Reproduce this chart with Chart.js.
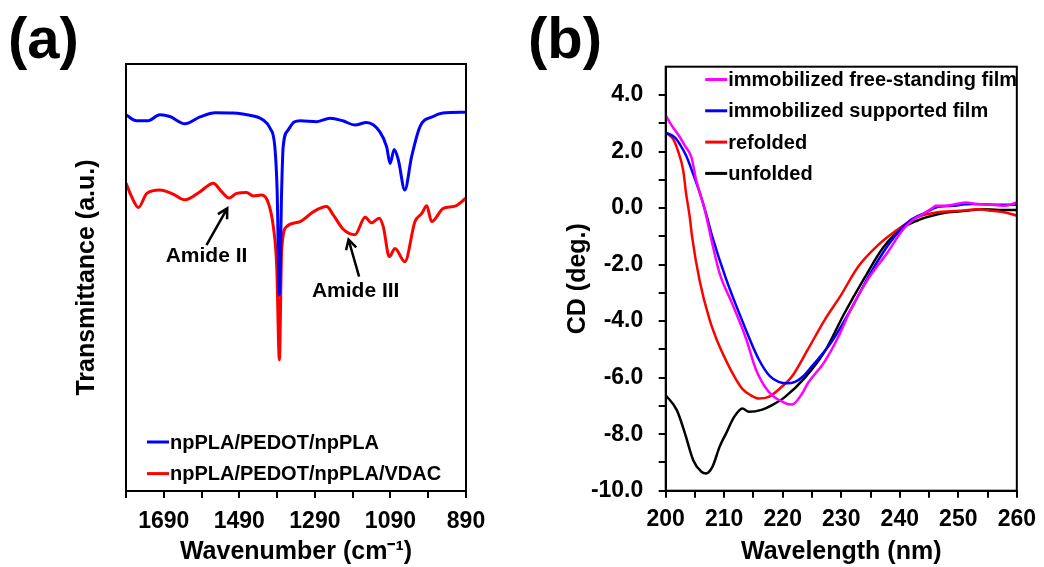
<!DOCTYPE html>
<html>
<head>
<meta charset="utf-8">
<script src="https://cdn.jsdelivr.net/npm/chart.js@4.4.0/dist/chart.umd.min.js"></script>
<style>
  html, body { margin: 0; padding: 0; background: #fff; }
  #wrap { position: relative; width: 1044px; height: 567px; }
  #chartA { position: absolute; left: 0; top: 0; }
  #chartB { position: absolute; left: 520px; top: 0; }
</style>
</head>
<body>
<div id="wrap">
  <canvas id="chartA" width="520" height="567"></canvas>
  <canvas id="chartB" width="524" height="567"></canvas>
</div>
<script>
// (a) FTIR spectra, wavenumber (cm-1) vs transmittance (a.u.)
const irTickValues = [1790, 1690, 1590, 1490, 1390, 1290, 1190, 1090, 990, 890];
const irTickLabels = [1690, 1490, 1290, 1090, 890];

const filmWn = [1790, 1762, 1732, 1700, 1674, 1634, 1594, 1554, 1507, 1470, 1427, 1409, 1396, 1390, 1384, 1378, 1374, 1361, 1345, 1329, 1285, 1250, 1216, 1184, 1153, 1118, 1100, 1091, 1080, 1069, 1052, 1034, 1012, 977, 951, 890];
const filmT = [88.1, 86.7, 86.7, 88.1, 87.7, 86.0, 87.6, 88.6, 88.5, 88.1, 86.9, 85.0, 80.6, 70.5, 45.9, 70.5, 80.6, 84.5, 86.4, 86.7, 86.5, 87.3, 86.7, 85.7, 86.3, 84.1, 80.6, 76.7, 80.0, 77.5, 70.5, 78.3, 85.3, 87.7, 88.5, 88.7];

const vdacWn = [1790, 1775, 1757, 1735, 1700, 1665, 1634, 1594, 1559, 1537, 1517, 1497, 1471, 1453, 1431, 1413, 1400, 1391, 1384, 1378, 1365, 1329, 1294, 1259, 1241, 1215, 1184, 1157, 1140, 1120, 1109, 1093, 1078, 1052, 1025, 1007, 994, 981, 950, 919, 890];
const vdacT = [72.1, 68.9, 66.4, 69.7, 70.5, 69.5, 68.2, 70.1, 72.1, 70.1, 68.6, 69.7, 69.9, 69.1, 69.3, 67.4, 61.9, 52.5, 30.7, 56.4, 61.9, 63.1, 65.4, 66.6, 64.6, 61.3, 60.0, 64.1, 62.8, 63.9, 61.9, 54.9, 56.8, 53.7, 63.1, 65.0, 66.8, 63.1, 66.2, 66.7, 68.6];

// (b) CD spectra, wavelength (nm) vs CD (deg.)
const freeNm = [200, 200.7, 202.1, 203.3, 204.4, 205.2, 206.6, 208.0, 209.2, 211.4, 213.7, 215.4, 217.6, 220.4, 221.6, 223.2, 224.3, 227.1, 229.4, 231.6, 234.4, 237.8, 240.6, 242.5, 244.0, 245.7, 246.2, 247.9, 251.3, 253.0, 255.8, 258.0, 260];
const freeCd = [3.29, 3.02, 2.61, 2.2, 1.79, 1.0, 0.0, -1.3, -2.3, -3.4, -4.6, -5.7, -6.5, -6.9, -6.95, -6.6, -6.2, -5.45, -4.6, -3.6, -2.57, -1.6, -0.75, -0.38, -0.21, 0.02, 0.08, 0.08, 0.2, 0.14, 0.12, 0.08, 0.2];

const suppNm = [200, 201.6, 202.4, 203.5, 204.7, 205.8, 206.9, 208.0, 210.3, 213.1, 215.9, 217.8, 219.3, 220.8, 222.1, 223.5, 224.9, 228.3, 231.6, 235.0, 238.4, 241.7, 244.5, 246.2, 249.0, 252.4, 255.8, 260];
const suppCd = [2.67, 2.49, 2.26, 1.85, 1.2, 0.55, -0.2, -1.04, -2.5, -4.0, -5.35, -5.95, -6.15, -6.2, -6.15, -5.95, -5.62, -4.75, -3.6, -2.3, -1.2, -0.45, -0.15, 0.02, 0.08, 0.14, 0.12, 0.12];

const refoldNm = [200, 201.3, 202.1, 203.0, 203.5, 204.1, 204.5, 205.8, 207.5, 208.9, 210.3, 211.7, 213.1, 214.5, 215.9, 217.6, 219.8, 221.5, 224.3, 227.1, 229.9, 232.8, 236.1, 239.5, 242.9, 246.2, 250.2, 253.5, 255.8, 258.0, 260];
const refoldCd = [2.67, 2.43, 2.02, 1.32, 0.49, -0.3, -1.0, -2.57, -3.95, -4.75, -5.39, -5.95, -6.4, -6.62, -6.74, -6.68, -6.33, -5.98, -5.0, -3.98, -3.1, -2.1, -1.35, -0.78, -0.33, -0.16, -0.1, -0.04, -0.1, -0.16, -0.27];

const unfoldNm = [200, 201.9, 203.3, 204.7, 206.1, 206.9, 208.0, 209.2, 210.3, 211.7, 213.1, 214.2, 216.5, 218.1, 220.4, 223.8, 227.1, 230.5, 233.9, 237.2, 240.6, 242.9, 244.5, 247.9, 251.3, 254.1, 256.9, 260];
const unfoldCd = [-6.62, -7.15, -7.98, -8.92, -9.33, -9.39, -9.15, -8.45, -7.98, -7.39, -7.09, -7.21, -7.13, -6.98, -6.68, -6.0, -5.1, -3.74, -2.5, -1.39, -0.68, -0.45, -0.33, -0.16, -0.1, -0.04, -0.07, -0.07];

const FONT = "'Liberation Sans', Arial, sans-serif";
Chart.defaults.font.family = FONT;
Chart.defaults.font.weight = 'bold';
Chart.defaults.color = '#000';

const pairs = (xs, ys) => xs.map((x, i) => ({ x: x, y: ys[i] }));

const line = (label, xs, ys, color, width) => ({
  label: label,
  data: pairs(xs, ys),
  borderColor: color,
  backgroundColor: color,
  borderWidth: width,
  pointRadius: 0,
  fill: false,
  cubicInterpolationMode: 'monotone'
});

// box round the plot area
const frameBox = {
  id: 'frameBox',
  afterDraw(chart) {
    const { ctx, chartArea: a } = chart;
    ctx.save();
    ctx.strokeStyle = '#000';
    ctx.lineWidth = 2;
    ctx.strokeRect(a.left, a.top, a.right - a.left, a.bottom - a.top);
    ctx.restore();
  }
};

// legend drawn inside the plot area
const lineKey = {
  id: 'lineKey',
  afterDraw(chart, args, opts) {
    const { ctx, chartArea: a } = chart;
    ctx.save();
    ctx.font = 'bold ' + opts.size + 'px ' + FONT;
    ctx.textAlign = 'left';
    ctx.textBaseline = 'middle';
    chart.data.datasets.forEach((ds, i) => {
      const y = a.top + opts.top + i * opts.gap;
      const x0 = a.left + opts.left;
      ctx.strokeStyle = ds.borderColor;
      ctx.lineWidth = 3;
      ctx.beginPath();
      ctx.moveTo(x0, y);
      ctx.lineTo(x0 + opts.len, y);
      ctx.stroke();
      ctx.fillStyle = '#000';
      ctx.fillText(ds.label, x0 + opts.len + 1, y + 1);
    });
    ctx.restore();
  }
};

// text labels with arrows, placed in data units
const arrowNotes = {
  id: 'arrowNotes',
  afterDatasetsDraw(chart, args, opts) {
    const { ctx } = chart;
    const xs = chart.scales.x, ys = chart.scales.y;
    ctx.save();
    ctx.strokeStyle = '#000';
    ctx.fillStyle = '#000';
    ctx.lineWidth = 2.5;
    ctx.font = 'bold ' + opts.size + 'px ' + FONT;
    ctx.textAlign = 'center';
    ctx.textBaseline = 'middle';
    opts.items.forEach(n => {
      const x1 = xs.getPixelForValue(n.tail[0]), y1 = ys.getPixelForValue(n.tail[1]);
      const x2 = xs.getPixelForValue(n.tip[0]), y2 = ys.getPixelForValue(n.tip[1]);
      const ang = Math.atan2(y2 - y1, x2 - x1);
      ctx.beginPath();
      ctx.moveTo(x1, y1);
      ctx.lineTo(x2, y2);
      ctx.moveTo(x2 - 11 * Math.cos(ang - 0.5), y2 - 11 * Math.sin(ang - 0.5));
      ctx.lineTo(x2, y2);
      ctx.lineTo(x2 - 11 * Math.cos(ang + 0.5), y2 - 11 * Math.sin(ang + 0.5));
      ctx.stroke();
      ctx.fillText(n.text, xs.getPixelForValue(n.at[0]), ys.getPixelForValue(n.at[1]));
    });
    ctx.restore();
  }
};

const panelTag = {
  id: 'panelTag',
  afterDraw(chart, args, opts) {
    const { ctx } = chart;
    ctx.save();
    ctx.font = 'bold 58px ' + FONT;
    ctx.fillStyle = '#000';
    ctx.textAlign = 'left';
    ctx.textBaseline = 'middle';
    ctx.fillText(opts.text, opts.x, opts.y);
    ctx.restore();
  }
};

const tickFont = { size: 23, weight: 'bold' };
const titleFont = { size: 25, weight: 'bold' };

new Chart(document.getElementById('chartA'), {
  type: 'line',
  data: {
    datasets: [
      line('npPLA/PEDOT/npPLA', filmWn, filmT, '#0000ff', 3),
      line('npPLA/PEDOT/npPLA/VDAC', vdacWn, vdacT, '#ff0000', 3)
    ]
  },
  options: {
    responsive: false,
    animation: false,
    devicePixelRatio: 1,
    layout: { padding: { left: 72, right: 54, top: 64, bottom: 0 } },
    plugins: {
      legend: { display: false },
      tooltip: { enabled: false },
      lineKey: { size: 20, left: 21, top: 378, gap: 31.6, len: 22 },
      arrowNotes: {
        size: 21,
        items: [
          { text: 'Amide II', at: [1577, 54.9], tail: [1577, 57.6], tip: [1522, 66.2] },
          { text: 'Amide III', at: [1182, 46.7], tail: [1173, 50.2], tip: [1201, 58.9] }
        ]
      },
      panelTag: { text: '(a)', x: 8, y: 42 }
    },
    scales: {
      x: {
        type: 'linear',
        reverse: true,
        min: 890,
        max: 1790,
        afterBuildTicks: s => { s.ticks = irTickValues.map(v => ({ value: v })); },
        afterFit: s => { s.height = 76; },
        grid: { display: true, drawOnChartArea: false, drawTicks: true, tickLength: 7, color: '#000', lineWidth: 2 },
        border: { display: true, color: '#000', width: 2 },
        ticks: {
          autoSkip: false, maxRotation: 0, padding: 10, color: '#000', font: tickFont,
          callback: v => irTickLabels.includes(v) ? String(v) : ''
        },
        title: { display: true, text: 'Wavenumber (cm⁻¹)', color: '#000', font: titleFont, padding: 0 }
      },
      y: {
        min: 0,
        max: 100,
        afterFit: s => { s.width = 54; },
        grid: { display: false },
        border: { display: true, color: '#000', width: 2 },
        ticks: { display: false },
        title: { display: true, text: 'Transmittance (a.u.)', color: '#000', font: titleFont, padding: 0 }
      }
    }
  },
  plugins: [frameBox, lineKey, arrowNotes, panelTag]
});

new Chart(document.getElementById('chartB'), {
  type: 'line',
  data: {
    datasets: [
      line('immobilized free-standing film', freeNm, freeCd, '#ff00ff', 2.5),
      line('immobilized supported film', suppNm, suppCd, '#0000ff', 2.5),
      line('refolded', refoldNm, refoldCd, '#ff0000', 2.5),
      line('unfolded', unfoldNm, unfoldCd, '#000000', 2.5)
    ]
  },
  options: {
    responsive: false,
    animation: false,
    devicePixelRatio: 1,
    layout: { padding: { left: 43, right: 22.3, top: 66.7, bottom: 0 } },
    plugins: {
      legend: { display: false },
      tooltip: { enabled: false },
      lineKey: { size: 20, left: 39.5, top: 12.8, gap: 31.3, len: 22 },
      panelTag: { text: '(b)', x: 8, y: 42 }
    },
    scales: {
      x: {
        type: 'linear',
        min: 200,
        max: 260,
        afterFit: s => { s.height = 76.3; },
        grid: { display: true, drawOnChartArea: false, drawTicks: true, tickLength: 7, color: '#000', lineWidth: 2 },
        border: { display: true, color: '#000', width: 2 },
        ticks: {
          stepSize: 5, autoSkip: false, maxRotation: 0, padding: 8, color: '#000', font: tickFont,
          callback: v => v % 10 === 0 ? String(v) : ''
        },
        title: { display: true, text: 'Wavelength (nm)', color: '#000', font: titleFont, padding: 0 }
      },
      y: {
        min: -10,
        max: 5,
        afterFit: s => { s.width = 102.7; },
        grid: {
          display: true, drawOnChartArea: false, drawTicks: true, tickLength: 7, lineWidth: 2, color: '#000',
          tickColor: c => (c.tick && c.tick.value === 5) ? 'rgba(0,0,0,0)' : '#000'
        },
        border: { display: true, color: '#000', width: 2 },
        ticks: {
          stepSize: 1, autoSkip: false, padding: 15.4, color: '#000', font: tickFont,
          callback: v => (v % 2 === 0 && v < 5) ? v.toFixed(1) : ''
        },
        title: { display: true, text: 'CD (deg.)', color: '#000', font: titleFont, padding: 0 }
      }
    }
  },
  plugins: [frameBox, lineKey, panelTag]
});
</script>
</body>
</html>
